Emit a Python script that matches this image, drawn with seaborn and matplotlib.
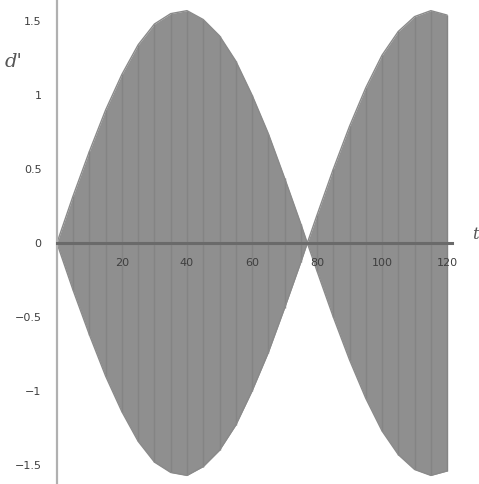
import matplotlib
matplotlib.use("Agg")
import matplotlib.pyplot as plt
import numpy as np
import pandas as pd
import seaborn as sns

# Envelope of the oscillation: amplitude at each time sample
t = [0, 5, 10, 15, 20, 25, 30, 35, 40, 45, 50, 55, 60, 65, 70, 75, 77,
     80, 85, 90, 95, 100, 105, 110, 115, 120]
amplitude = [0.00, 0.32, 0.62, 0.90, 1.14, 1.34, 1.48, 1.55, 1.57, 1.51,
             1.40, 1.23, 1.00, 0.74, 0.44, 0.13, 0.00,
             0.19, 0.50, 0.79, 1.05, 1.27, 1.43, 1.53, 1.57, 1.54]

x_ticks = [20, 40, 60, 80, 100, 120]
x_tick_labels = ["20", "40", "60", "80", "100", "120"]
y_ticks = [-1.5, -1, -0.5, 0, 0.5, 1, 1.5]
y_tick_labels = ["\u22121.5", "\u22121", "\u22120.5", "0", "0.5", "1", "1.5"]

sns.set_style("white")
plt.rcParams["font.family"] = ["DejaVu Sans"]

df = pd.DataFrame({"t": t, "upper": amplitude})
df["lower"] = -df["upper"]

fig = plt.figure(figsize=(4.79, 4.84), dpi=100)
ax = fig.add_axes([0, 0, 1, 1])

fill_col = "#8f8f8f"
ax.fill_between(df["t"], df["lower"], df["upper"], color=fill_col, lw=0, zorder=1)
ax.vlines(df["t"], df["lower"], df["upper"], color="#848484", lw=1.0, zorder=1.1)
sns.lineplot(data=df, x="t", y="upper", color="#8a8a8a", lw=1.0, ax=ax, zorder=1.2)
sns.lineplot(data=df, x="t", y="lower", color="#8a8a8a", lw=1.0, ax=ax, zorder=1.2)

ax.set_xlim(-17.5, 129.8)
ax.set_ylim(-1.628, 1.642)

for side in ("top", "right"):
    ax.spines[side].set_visible(False)
ax.spines["left"].set_position(("data", 0))
ax.spines["bottom"].set_position(("data", 0))
ax.spines["bottom"].set_bounds(0, 121.5)
ax.spines["left"].set_color("#b0b0b0")
ax.spines["bottom"].set_color("#6a6a6a")
ax.spines["left"].set_linewidth(1.6)
ax.spines["bottom"].set_linewidth(2.2)
ax.spines["left"].set_zorder(3)
ax.spines["bottom"].set_zorder(3)

ax.set_xticks(x_ticks)
ax.set_xticklabels(x_tick_labels)
ax.set_yticks(y_ticks)
ax.set_yticklabels(y_tick_labels)
ax.tick_params(axis="both", labelsize=8, labelcolor="#3f3f3f",
               length=3, width=0.8, color="#999999", direction="out", pad=8)
ax.xaxis.set_zorder(4)
ax.yaxis.set_zorder(4)
ax.set_xlabel("")
ax.set_ylabel("")

ax.text(-16, 1.22, "d'", fontsize=14, style="italic", family="DejaVu Serif",
        color="#555555", ha="left", va="center")
ax.text(129.6, 0.0, "t", fontsize=12, style="italic", family="DejaVu Serif",
        color="#555555", ha="right", va="bottom")

fig.savefig("out.png", dpi=100)
